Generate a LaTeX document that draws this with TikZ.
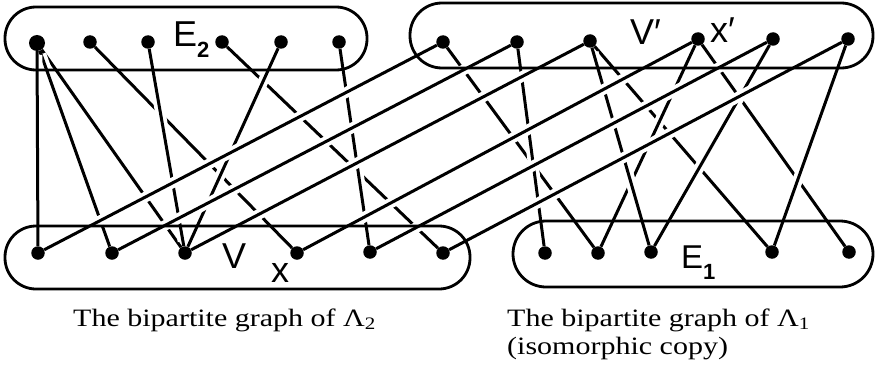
\documentclass[tikz,border=0pt]{standalone}
\usepackage{fontspec}
\setmainfont{Liberation Serif}
\newfontfamily\labfont{Liberation Sans}
\usetikzlibrary{calc}
\tikzset{
  vtx/.style={circle, fill=black, inner sep=0pt, minimum size=13.5pt},
  edgeline/.style={line width=3pt, black},
  gapline/.style={line width=10.5pt, white},
  boxline/.style={line width=2.8pt, black},
  lab/.style={font=\labfont\fontsize{36}{36}\selectfont, inner sep=0pt, anchor=base west},
  captext/.style={font=\fontsize{25}{25}\selectfont, inner sep=0pt, anchor=base west}
}
\newcommand\knotedge[2]{%
  \draw[gapline] ($(#1)!12pt!(#2)$) -- ($(#2)!12pt!(#1)$);
  \draw[edgeline] (#1) -- (#2);}
\newcommand\subbold[1]{\raisebox{-11pt}{\fontsize{22}{22}\selectfont\bfseries #1}}
\newcommand\captxt[1]{\scalebox{1.2}[1]{#1}}
\begin{document}
\begin{tikzpicture}[x=1pt, y=-1pt]
\useasboundingbox (0,0) rectangle (877,369);
% vertices
\node[vtx, minimum size=16pt] (a1) at (37,43) {};
\node[vtx] (a2) at (90,42) {};
\node[vtx] (a3) at (148,42) {};
\node[vtx] (a4) at (222,42) {};
\node[vtx] (a5) at (281,42) {};
\node[vtx] (a6) at (339,42) {};
\node[vtx] (b1) at (443,42) {};
\node[vtx] (b2) at (517,42) {};
\node[vtx] (b3) at (590,41) {};
\node[vtx] (b4) at (698,39) {};
\node[vtx] (b5) at (773,39) {};
\node[vtx] (b6) at (848,39) {};
\node[vtx] (c1) at (38,253) {};
\node[vtx] (c2) at (112,253) {};
\node[vtx] (c3) at (185,253) {};
\node[vtx] (c4) at (297,253) {};
\node[vtx] (c5) at (370,252) {};
\node[vtx] (c6) at (443,253) {};
\node[vtx] (d1) at (545,253) {};
\node[vtx] (d2) at (598,253) {};
\node[vtx] (d3) at (651,252) {};
\node[vtx] (d4) at (772,252) {};
\node[vtx] (d5) at (849,252) {};
% left graph edges (bottom to top)
\knotedge{a4}{c6}
\knotedge{a2}{c4}
\knotedge{a1}{c3}
\knotedge{a6}{c5}
\knotedge{a1}{c2}
\knotedge{a5}{c3}
\knotedge{a3}{c3}
\knotedge{a1}{c1}
% right graph edges
\knotedge{b3}{d4}
\knotedge{b4}{d5}
\knotedge{b4}{d2}
\knotedge{b1}{d2}
\knotedge{b3}{d3}
\knotedge{b2}{d1}
\knotedge{b5}{d3}
\knotedge{b6}{d4}
% long correspondence lines
\knotedge{c1}{b1}
\knotedge{c2}{b2}
\knotedge{c3}{b3}
\knotedge{c4}{b4}
\knotedge{c5}{b5}
\knotedge{c6}{b6}
% boxes
\draw[boxline, rounded corners=31pt] (5,7) rectangle (367,70);
\draw[boxline, rounded corners=32pt] (410,3) rectangle (873,68);
\draw[boxline, rounded corners=31pt] (5,226) rectangle (470,289);
\draw[boxline, rounded corners=33pt] (513,221) rectangle (873,287);
% labels
\node[lab] (lE2) at (173,47) {E\subbold{2}};
\node[lab] (lVp) at (630,45) {V′};
\node[lab] (lxp) at (710,42) {x′};
\node[lab] (lV) at (222,268) {V};
\node[lab] (lx) at (271,282) {x};
\node[lab, font=\labfont\fontsize{33}{33}\selectfont] (lE1) at (681,268) {E\subbold{1}};
% captions
\node[captext] (cap1) at (73,326) {\captxt{The bipartite graph of Λ\textsubscript{2}}};
\node[captext] (cap2) at (507,326) {\captxt{The bipartite graph of Λ\textsubscript{1}}};
\node[captext] (cap3) at (507,354) {\captxt{(isomorphic copy)}};
\end{tikzpicture}
\end{document}
